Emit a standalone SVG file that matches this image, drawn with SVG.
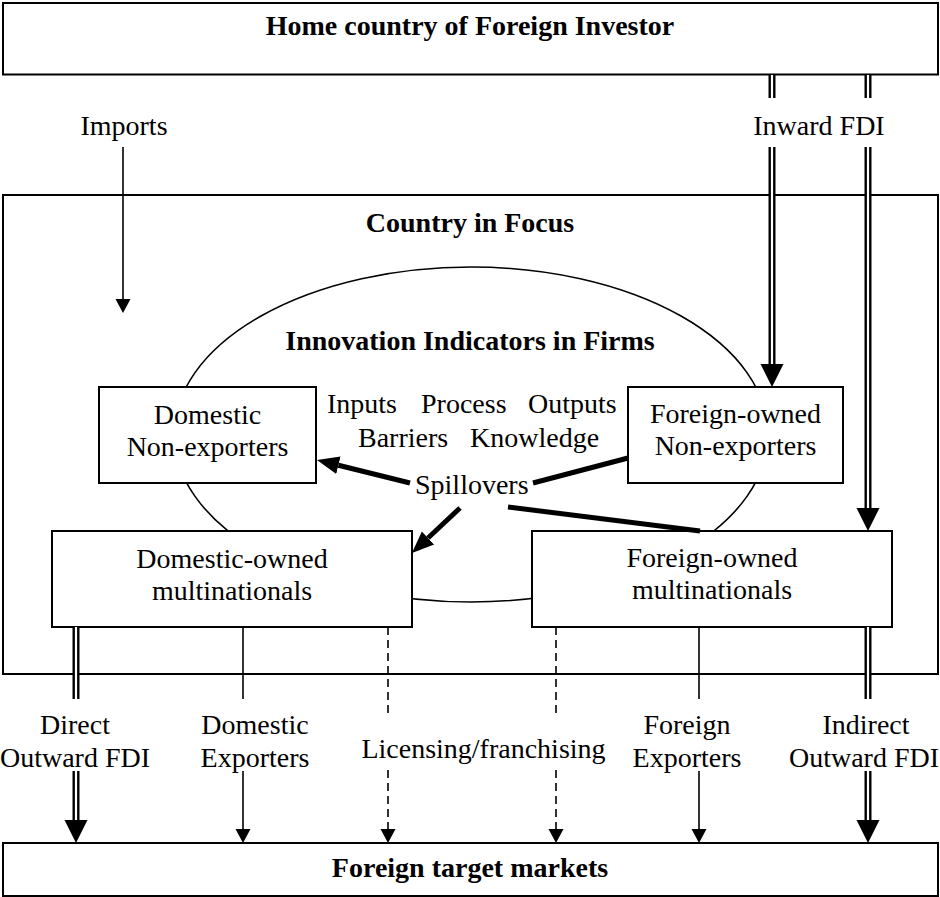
<svg xmlns="http://www.w3.org/2000/svg" width="940" height="897" viewBox="0 0 940 897">
<style>
.box{fill:#fff;stroke:#000;stroke-width:2}
.ell{fill:none;stroke:#000;stroke-width:1.6}
.t{font-family:"Liberation Serif","Times New Roman","DejaVu Serif",serif;font-size:28px;fill:#000}
.b{font-weight:bold}
.m{text-anchor:middle}
.single{stroke:#000;stroke-width:1.6;fill:none}
.dash{stroke:#000;stroke-width:1.6;fill:none;stroke-dasharray:8 5}
.dblk{stroke:#000;stroke-width:7;fill:none}
.dwht{stroke:#fff;stroke-width:2.2;fill:none}
.thick{stroke:#000;stroke-width:5;fill:none}
</style>
<defs>
<marker id="big" markerUnits="userSpaceOnUse" markerWidth="24" markerHeight="24" viewBox="0 -12 24 24" refX="0" refY="0" orient="auto">
<path d="M0,-11.5 L23,0 L0,11.5 Z" fill="#000"/>
</marker>
<marker id="small" markerUnits="userSpaceOnUse" markerWidth="15" markerHeight="16" viewBox="0 -8 15 16" refX="0" refY="0" orient="auto">
<path d="M0,-7.5 L14,0 L0,7.5 Z" fill="#000"/>
</marker>
<marker id="thk" markerUnits="userSpaceOnUse" markerWidth="23" markerHeight="20" viewBox="0 -10 23 20" refX="0" refY="0" orient="auto">
<path d="M0,-9 L22,0 L0,9 Z" fill="#000"/>
</marker>
</defs>

<g id="home">
<rect class="box" x="3" y="3" width="935" height="71.5"/>
<text class="t b m" x="470" y="35">Home country of Foreign Investor</text>
</g>

<g id="country">
<rect class="box" x="3" y="195" width="935" height="479"/>
<text class="t b m" x="470" y="232">Country in Focus</text>
</g>

<g id="innovation">
<ellipse class="ell" cx="471" cy="434.5" rx="297" ry="167.5"/>
<text class="t b m" x="470" y="350">Innovation Indicators in Firms</text>
<text class="t" x="327" y="413">Inputs</text>
<text class="t" x="421" y="413">Process</text>
<text class="t" x="528" y="413">Outputs</text>
<text class="t" x="358" y="447">Barriers</text>
<text class="t" x="470" y="447">Knowledge</text>
<text class="t" x="415" y="494">Spillovers</text>
</g>

<g id="dom-nonexp">
<rect class="box" x="99" y="387" width="217" height="96"/>
<text class="t m" x="207.5" y="424">Domestic</text>
<text class="t m" x="207.5" y="456">Non-exporters</text>
</g>

<g id="for-nonexp">
<rect class="box" x="628" y="387" width="215" height="96"/>
<text class="t m" x="735.5" y="423">Foreign-owned</text>
<text class="t m" x="735.5" y="455">Non-exporters</text>
</g>

<g id="dom-mnc">
<rect class="box" x="52" y="531" width="360" height="96"/>
<text class="t m" x="232" y="568">Domestic-owned</text>
<text class="t m" x="232" y="600">multinationals</text>
</g>

<g id="for-mnc">
<rect class="box" x="532" y="531" width="360" height="96"/>
<text class="t m" x="712" y="567">Foreign-owned</text>
<text class="t m" x="712" y="599">multinationals</text>
</g>

<g id="markets">
<rect class="box" x="3" y="843" width="935" height="53"/>
<text class="t b m" x="470" y="877">Foreign target markets</text>
</g>

<g id="connectors">
<!-- Imports -->
<text class="t m" x="124" y="135">Imports</text>
<line class="single" x1="123" y1="147" x2="123" y2="299" marker-end="url(#small)"/>

<!-- Inward FDI -->
<text class="t m" x="819" y="135">Inward FDI</text>
<line class="dblk" x1="772" y1="75" x2="772" y2="98"/>
<line class="dwht" x1="772" y1="75" x2="772" y2="98"/>
<line class="dblk" x1="868" y1="75" x2="868" y2="98"/>
<line class="dwht" x1="868" y1="75" x2="868" y2="98"/>
<line class="dblk" x1="772" y1="147" x2="772" y2="364" marker-end="url(#big)"/>
<line class="dwht" x1="772" y1="147" x2="772" y2="364"/>
<line class="dblk" x1="868" y1="147" x2="868" y2="508" marker-end="url(#big)"/>
<line class="dwht" x1="868" y1="147" x2="868" y2="508"/>

<!-- Spillovers -->
<line class="thick" x1="410" y1="483" x2="338.4" y2="465.3" marker-end="url(#thk)"/>
<line class="thick" x1="460" y1="508" x2="428" y2="538" marker-end="url(#thk)"/>
<line class="thick" x1="628" y1="458" x2="533" y2="483"/>
<line class="thick" x1="508" y1="507" x2="700" y2="531"/>

<!-- Direct Outward FDI -->
<line class="dblk" x1="76" y1="627" x2="76" y2="699"/>
<line class="dwht" x1="76" y1="627" x2="76" y2="699"/>
<text class="t m" x="75" y="734">Direct</text>
<text class="t m" x="75" y="767">Outward FDI</text>
<line class="dblk" x1="76" y1="771" x2="76" y2="820" marker-end="url(#big)"/>
<line class="dwht" x1="76" y1="771" x2="76" y2="820"/>

<!-- Domestic Exporters -->
<line class="single" x1="243" y1="627" x2="243" y2="699"/>
<text class="t m" x="255" y="734">Domestic</text>
<text class="t m" x="255" y="767">Exporters</text>
<line class="single" x1="243" y1="771" x2="243" y2="829" marker-end="url(#small)"/>

<!-- Licensing/franchising -->
<line class="dash" x1="388" y1="627" x2="388" y2="717"/>
<line class="dash" x1="556" y1="627" x2="556" y2="717"/>
<text class="t m" x="483.5" y="758">Licensing/franchising</text>
<line class="dash" x1="388" y1="770" x2="388" y2="829" marker-end="url(#small)"/>
<line class="dash" x1="556" y1="770" x2="556" y2="829" marker-end="url(#small)"/>

<!-- Foreign Exporters -->
<line class="single" x1="699" y1="627" x2="699" y2="699"/>
<text class="t m" x="687" y="734">Foreign</text>
<text class="t m" x="687" y="767">Exporters</text>
<line class="single" x1="699" y1="771" x2="699" y2="829" marker-end="url(#small)"/>

<!-- Indirect Outward FDI -->
<line class="dblk" x1="868" y1="627" x2="868" y2="699"/>
<line class="dwht" x1="868" y1="627" x2="868" y2="699"/>
<text class="t m" x="866" y="734">Indirect</text>
<text class="t m" x="864" y="767">Outward FDI</text>
<line class="dblk" x1="868" y1="771" x2="868" y2="820" marker-end="url(#big)"/>
<line class="dwht" x1="868" y1="771" x2="868" y2="820"/>
</g>
</svg>
